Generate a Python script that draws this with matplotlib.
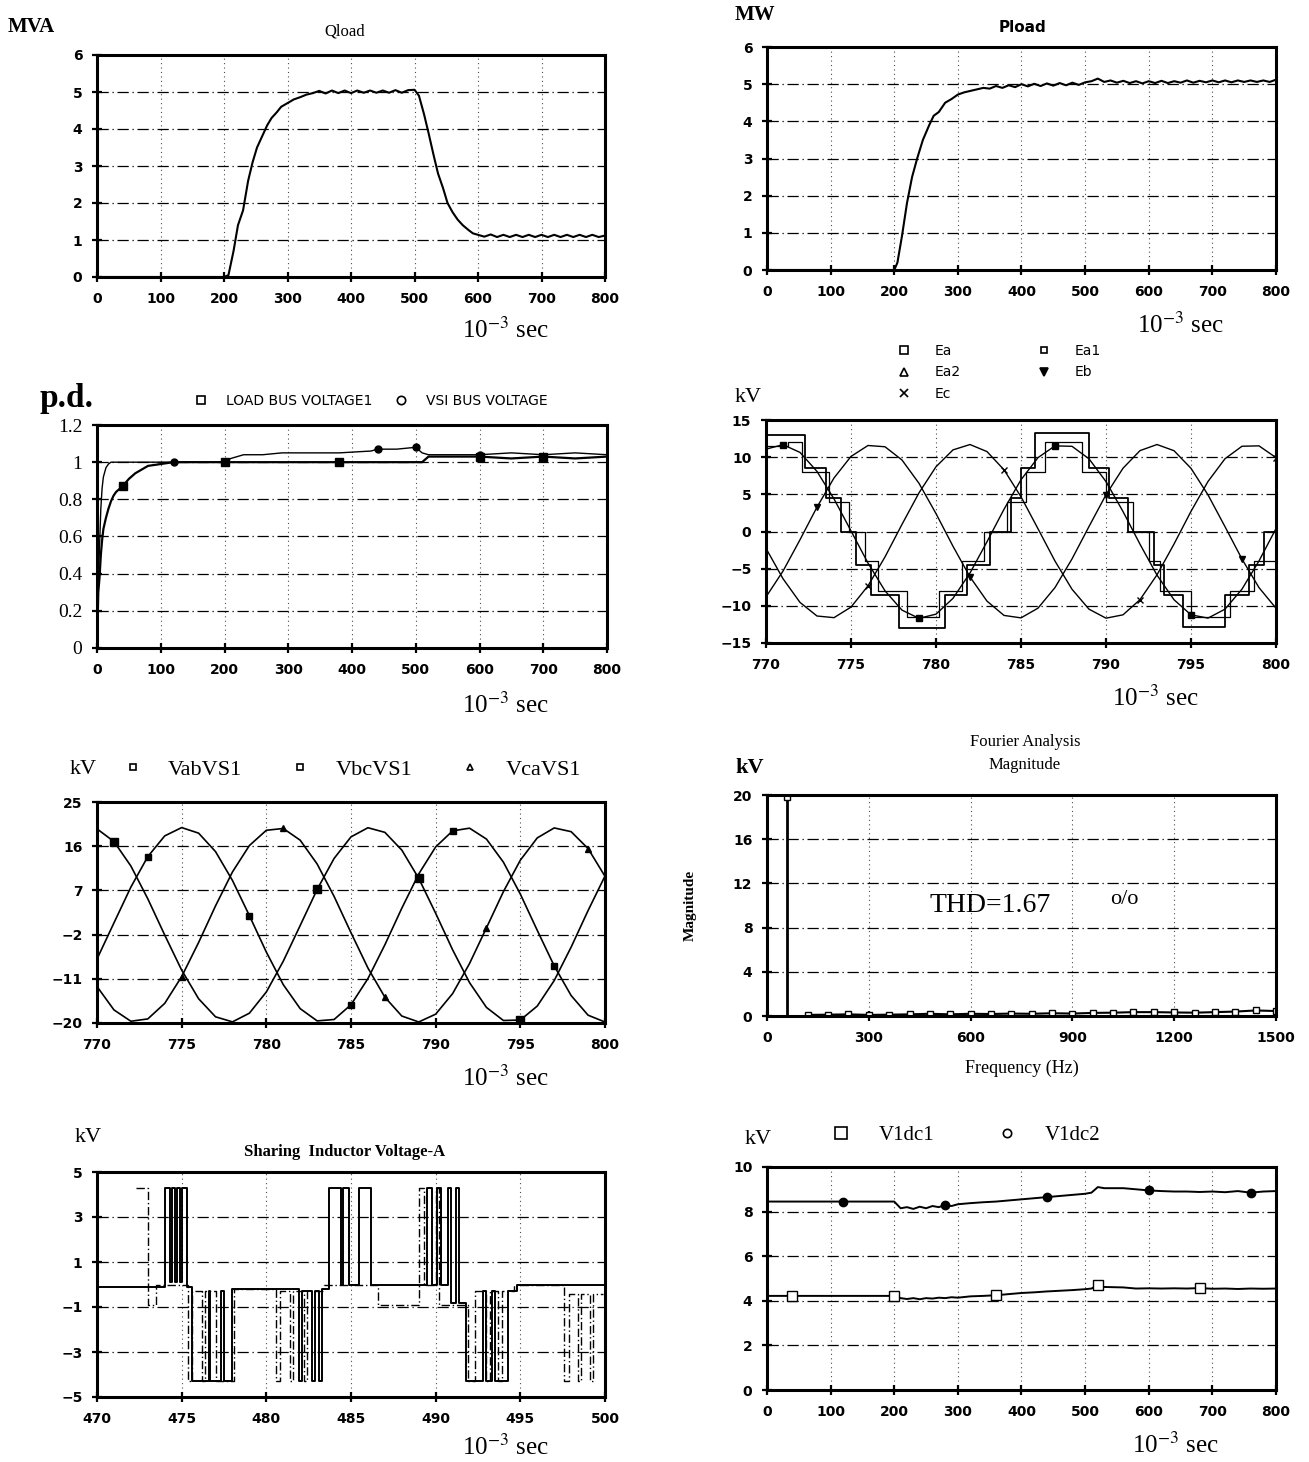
import matplotlib.pyplot as plt
from matplotlib.lines import Line2D

plt.rcParams['font.family'] = ['DejaVu Sans']
plt.rcParams['mathtext.fontset'] = 'stix'
plt.rcParams['mathtext.default'] = 'rm'

W, H = 1309, 1462
SERIF = 'Liberation Serif'

# ---------------- data ----------------
# Qload, MVA vs ms
q_t = [0, 100, 200, 207, 215, 222, 230, 238, 245, 252, 260, 268, 275, 283, 290,
       300, 310, 320, 330, 340, 350, 360, 370, 380, 390, 400, 410, 420, 430, 440,
       450, 460, 470, 480, 490, 500,
       507, 515, 522, 530, 537, 545, 552, 560, 568, 576, 585, 592,
       600, 610, 620, 630, 640, 650, 660, 670, 680, 690, 700, 710, 720, 730, 740,
       750, 760, 770, 780, 790, 800]
q_v = [0, 0, 0, 0.05, 0.7, 1.4, 1.8, 2.6, 3.1, 3.5, 3.8, 4.1, 4.3, 4.45, 4.6,
       4.7, 4.8, 4.86, 4.93, 4.97, 5.03, 4.96, 5.04, 4.97, 5.04, 4.97, 5.04, 4.98, 5.04, 4.98,
       5.04, 4.98, 5.05, 4.98, 5.05, 5.06,
       4.9, 4.4, 3.9, 3.3, 2.8, 2.4, 2.0, 1.75, 1.55, 1.4, 1.27, 1.18,
       1.14, 1.09, 1.15, 1.08, 1.14, 1.08, 1.14, 1.08, 1.14, 1.08, 1.14, 1.08, 1.14, 1.08, 1.14,
       1.08, 1.14, 1.08, 1.14, 1.08, 1.12]

# Pload, MW vs ms
p_t = [0, 100, 200, 205, 212, 220, 228, 236, 245, 255, 262, 270, 280, 290, 300,
       310, 320, 330, 340, 350, 360, 370, 380, 390, 400, 410, 420, 430, 440, 450,
       460, 470, 480, 490, 500, 510, 520, 530, 540, 550, 560, 570, 580, 590, 600,
       610, 620, 630, 640, 650, 660, 670, 680, 690, 700, 710, 720, 730, 740, 750,
       760, 770, 780, 790, 800]
p_v = [0, 0, 0, 0.2, 0.9, 1.8, 2.5, 3.0, 3.5, 3.9, 4.15, 4.25, 4.5, 4.6, 4.72,
       4.78, 4.82, 4.86, 4.9, 4.88, 4.95, 4.9, 4.97, 4.92, 5.0, 4.94, 5.01, 4.95, 5.02, 4.96,
       5.03, 4.97, 5.04, 4.98, 5.05, 5.08, 5.15, 5.06, 5.1, 5.04, 5.09, 5.03, 5.08, 5.02, 5.08,
       5.03, 5.09, 5.03, 5.08, 5.04, 5.1, 5.04, 5.09, 5.05, 5.1, 5.05, 5.1, 5.05, 5.1, 5.06,
       5.1, 5.06, 5.1, 5.06, 5.12]

# bus voltages, p.u. vs ms
pd_t = [0, 2, 4, 6, 8, 10, 14, 18, 22, 26, 30, 40, 50, 60, 70, 80, 100, 120, 160, 200,
        210, 230, 260, 290, 330, 380, 430, 440, 470, 500, 510, 520, 560, 600, 650, 700, 750, 800]
load_bus = [0.0, 0.3, 0.38, 0.5, 0.58, 0.64, 0.7, 0.75, 0.79, 0.82, 0.84, 0.87, 0.91, 0.94, 0.96,
            0.98, 0.99, 1.0, 1.0, 1.0, 1.0, 1.0, 1.0, 1.0, 1.0, 1.0, 1.0, 1.0, 1.0, 1.0,
            1.0, 1.03, 1.03, 1.03, 1.02, 1.03, 1.02, 1.03]
vsi_bus = [0.0, 0.35, 0.55, 0.75, 0.86, 0.92, 0.97, 0.99, 1.0, 1.0, 1.0, 1.0, 1.0, 1.0, 1.0,
           1.0, 1.0, 1.0, 1.0, 1.0, 1.02, 1.04, 1.04, 1.05, 1.05, 1.05, 1.06, 1.07, 1.07, 1.08,
           1.05, 1.04, 1.04, 1.04, 1.05, 1.04, 1.05, 1.04]

# converter voltages, kV vs ms
t4 = [770, 771, 772, 773, 774, 775, 776, 777, 778, 779, 780, 781, 782, 783, 784, 785,
      786, 787, 788, 789, 790, 791, 792, 793, 794, 795, 796, 797, 798, 799, 800]
ea = [11.08, 11.68, 10.64, 8.08, 4.39, 0.08, -4.25, -7.98, -10.58, -11.68, -11.12, -8.99,
      -5.58, -1.38, 2.99, 6.96, 9.94, 11.52, 11.46, 9.78, 6.71, 2.69, -1.71, -5.87, -9.18,
      -11.21, -11.65, -10.45, -7.75, -3.96, 0.39]
eb = [-8.80, -5.33, -1.11, 3.28, 7.20, 10.10, 11.57, 11.40, 9.62, 6.48, 2.41, -1.99, -6.11,
      -9.37, -11.29, -11.62, -10.31, -7.54, -3.69, 0.67, 4.94, 8.51, 10.88, 11.70, 10.87,
      8.50, 4.93, 0.65, -3.71, -7.55, -10.32]
ec = [-2.27, -6.35, -9.54, -11.37, -11.59, -10.17, -7.31, -3.42, 0.96, 5.20, 8.71, 10.98,
      11.70, 10.75, 8.30, 4.67, 0.37, -3.98, -7.77, -10.45, -11.66, -11.21, -9.17, -5.83,
      -1.69, 2.71, 6.73, 9.79, 11.47, 11.52, 9.94]
ea1_t = [770.0, 772.3, 773.5, 774.4, 775.3, 776.2, 777.8, 780.5, 781.8, 783.2, 784.4, 785.0,
         785.8, 789.0, 790.2, 791.3, 792.8, 793.4, 794.5, 797.0, 798.4, 799.3, 800.0]
ea1_v = [13.0, 8.5, 4.5, 0.0, -4.5, -8.5, -13.0, -8.5, -4.5, 0.0, 4.5, 8.5,
         13.2, 8.5, 4.5, 0.0, -4.5, -8.5, -12.8, -8.5, -4.5, 0.0, 0.0]
ea2_t = [770.0, 771.3, 772.1, 773.7, 774.9, 775.8, 776.6, 778.3, 780.2, 781.5, 782.8, 784.2,
         785.3, 786.4, 788.6, 790.0, 791.6, 792.5, 793.2, 795.0, 797.3, 798.7, 800.0]
ea2_v = [11.5, 12.0, 8.0, 4.0, 0.0, -4.0, -8.0, -11.5, -8.0, -4.0, 0.0, 4.0,
         8.0, 12.0, 8.0, 4.0, 0.0, -4.0, -8.0, -11.5, -8.0, -4.0, -4.0]

# VSI line voltages, kV vs ms
t5 = [770, 771, 772, 773, 774, 775, 776, 777, 778, 779, 780, 781, 782, 783, 784, 785,
      786, 787, 788, 789, 790, 791, 792, 793, 794, 795, 796, 797, 798, 799, 800]
vab = [19.53, 16.95, 11.97, 5.29, -2.10, -9.23, -15.06, -18.74, -19.77, -18.00, -13.68,
       -7.42, -0.14, 7.19, 13.50, 17.90, 19.76, 18.82, 15.21, 9.45, 2.34, -5.09, -11.78,
       -16.83, -19.49, -19.40, -16.55, -11.36, -4.55, 2.89, 9.93]
vbc = [-6.97, 0.38, 7.67, 13.88, 18.10, 19.79, 18.66, 14.90, 9.02, 1.86, -5.56, -12.19,
       -17.08, -19.57, -19.29, -16.28, -10.96, -4.08, 3.37, 10.35, 15.85, 19.12, 19.67,
       17.45, 12.75, 6.25, -1.14, -8.37, -14.41, -18.41, -19.80]
vca = [-12.57, -17.33, -19.64, -19.17, -16.00, -10.55, -3.61, 3.85, 10.76, 16.14, 19.24,
       19.61, 17.22, 12.38, 5.79, -1.62, -8.80, -14.74, -18.58, -19.79, -18.20, -14.02,
       -7.89, -0.62, 6.74, 13.15, 17.69, 19.72, 18.96, 15.52, 9.87]

# Fourier analysis
fund_freq = 60
fund_mag = 19.8
harm_freq = [120, 180, 240, 300, 360, 420, 480, 540, 600, 660, 720, 780, 840, 900, 960,
             1020, 1080, 1140, 1200, 1260, 1320, 1380, 1440, 1500]
harm_mag = [0.1, 0.12, 0.15, 0.1, 0.12, 0.15, 0.2, 0.15, 0.2, 0.18, 0.22, 0.2, 0.25, 0.22,
            0.28, 0.3, 0.35, 0.35, 0.32, 0.3, 0.35, 0.4, 0.5, 0.45]
thd = 1.67

# sharing inductor voltage, kV vs ms (stepped)
sh_t = [470.0, 474.0, 474.3, 474.4, 474.6, 474.7, 474.9, 475.0, 475.3, 475.6, 476.6, 476.7,
        477.3, 477.5, 478.0, 481.9, 482.1, 482.7, 482.9, 483.1, 483.3, 483.7, 484.4, 484.5,
        484.9, 485.5, 486.2, 489.5, 489.8, 490.1, 490.3, 490.7, 490.9, 491.2, 491.4, 491.8,
        492.8, 493.0, 493.3, 493.5, 494.3, 494.8, 500.0]
sh_v = [-0.1, 4.3, 0.1, 4.3, 0.1, 4.3, 0.1, 4.3, -0.1, -4.3, -0.3, -4.3,
        -0.3, -4.3, -0.2, -4.3, -0.3, -4.3, -0.3, -4.3, -0.2, 4.3, 0.0, 4.3,
        0.0, 4.3, 0.0, 4.3, 0.0, 4.3, 0.0, 4.3, -0.8, 4.3, -0.8, -4.3,
        -0.3, -4.3, -0.3, -4.3, -0.3, 0.0, 0.0]
sh2_t = [472.3, 473.0, 473.5, 475.4, 475.6, 476.2, 476.4, 477.0, 478.1, 480.6, 480.8, 481.4,
         481.6, 482.2, 482.4, 483.4, 486.6, 489.0, 489.3, 490.0, 490.2, 491.9, 492.3, 493.0,
         493.2, 493.7, 493.9, 494.6, 497.6, 497.9, 498.4, 498.6, 499.1, 499.3, 499.9]
sh2_v = [4.3, -0.9, 0.0, -4.3, -0.3, -4.3, -0.3, -4.3, -0.2, -4.3, -0.3, -4.3,
         -0.3, -4.3, -0.3, 0.0, -0.9, 4.3, 0.0, 4.3, -0.9, -4.3, -0.3, -4.3,
         -0.3, -4.3, -0.3, 0.0, -4.3, -0.4, -4.3, -0.4, -4.3, -0.4, -0.4]

# dc link voltages, kV vs ms
dc_t = [0, 40, 100, 120, 200, 205, 210, 220, 230, 240, 250, 260, 270, 280, 290, 300,
        320, 340, 360, 380, 400, 420, 440, 460, 480, 500, 510, 520, 530,
        560, 580, 600, 620, 640, 660, 680, 700, 720, 740, 760, 780, 800]
v1dc1 = [4.22, 4.22, 4.22, 4.22, 4.22, 4.18, 4.12, 4.08, 4.12, 4.07, 4.12, 4.1, 4.14, 4.12,
         4.16, 4.14, 4.2, 4.22, 4.25, 4.3, 4.35, 4.38, 4.42, 4.45, 4.48, 4.52, 4.55, 4.7,
         4.62, 4.6, 4.55, 4.56, 4.55, 4.56, 4.55, 4.57, 4.54, 4.55, 4.53, 4.55, 4.54, 4.55]
v1dc2 = [8.45, 8.45, 8.45, 8.45, 8.45, 8.3, 8.15, 8.2, 8.12, 8.22, 8.15, 8.25, 8.2, 8.3,
         8.25, 8.33, 8.38, 8.42, 8.45, 8.5, 8.55, 8.6, 8.65, 8.7, 8.75, 8.8, 8.85, 9.1,
         9.05, 9.05, 9.0, 8.95, 8.92, 8.9, 8.9, 8.88, 8.9, 8.87, 8.92, 8.85, 8.9, 8.92]

# ---------------- figure ----------------
fig = plt.figure(figsize=(W / 100, H / 100), dpi=100)


def box(l, t, r, b):
    return [l / W, 1 - b / H, (r - l) / W, (b - t) / H]


def put(x, y, s, **kw):
    kw.setdefault('family', SERIF)
    kw.setdefault('ha', 'center')
    fig.text(x / W, 1 - y / H, s, va='center', **kw)


def panel(rect, xlim, ylim, xticks, yticks):
    ax = fig.add_axes(box(*rect))
    ax.set_xlim(xlim)
    ax.set_ylim(ylim)
    ax.set_xticks(xticks)
    ax.set_yticks(yticks)
    for s in ax.spines.values():
        s.set_linewidth(2.2)
    ax.tick_params(direction='inout', length=7, width=1.6, labelsize=10, pad=7)
    for lab in ax.get_xticklabels() + ax.get_yticklabels():
        lab.set_fontweight('bold')
    ax.grid(axis='y', color='k', lw=0.9, ls=(0, (9, 3, 1, 3)))
    ax.grid(axis='x', color='0.3', lw=0.8, ls=(0, (1, 3)))
    ax.set_axisbelow(True)
    return ax


def sec(x, y):
    put(x, y, r'10$^{-3}$ sec', fontsize=18)


def legend(ax, items, anchor, ncol, font, size, **kw):
    handles = [Line2D([], [], ls='none', marker=m, mfc=fc, mec='k', ms=ms, mew=1.2)
               for _, m, fc, ms in items]
    ax.legend(handles, [it[0] for it in items], loc='lower center', bbox_to_anchor=anchor,
              ncol=ncol, frameon=False, prop={'family': font, 'size': size},
              borderaxespad=0, **kw)


# 1. Qload
ax = panel((97, 55, 605, 277), (0, 800), (0, 6), range(0, 801, 100), range(0, 7))
ax.plot(q_t, q_v, color='k', lw=1.5)
put(8, 27, 'MVA', fontsize=15, weight='bold', ha='left')
put(345, 32, 'Qload', fontsize=12)
sec(505, 330)

# 2. Pload
ax = panel((767, 47, 1276, 270), (0, 800), (0, 6), range(0, 801, 100), range(0, 7))
ax.plot(p_t, p_v, color='k', lw=1.5)
put(735, 15, 'MW', fontsize=15, weight='bold', ha='left')
put(1022, 27, 'Pload', fontsize=11, weight='bold', family='DejaVu Sans')
sec(1180, 325)

# 3. bus voltages
ax = panel((97, 425, 607, 648), (0, 800), (0, 1.2), range(0, 801, 100),
           [0, 0.2, 0.4, 0.6, 0.8, 1.0, 1.2])
ax.set_yticklabels(['0', '0.2', '0.4', '0.6', '0.8', '1', '1.2'])
for lab in ax.get_yticklabels():
    lab.set_family(SERIF)
    lab.set_fontsize(14)
    lab.set_fontweight('normal')
ax.plot(pd_t, load_bus, color='k', lw=1.6, marker='s', ms=6, mfc='k',
        markevery=[11, 19, 25, 33, 35])
ax.plot(pd_t, vsi_bus, color='k', lw=1.0, marker='o', ms=5, mfc='k',
        markevery=[17, 19, 27, 29, 33])
put(40, 398, 'p.d.', fontsize=24, weight='bold', ha='left')
legend(ax, [('LOAD BUS VOLTAGE1', 's', 'white', 6), ('VSI BUS VOLTAGE', 'o', 'white', 6)],
       (0.53, 1.05), 2, 'DejaVu Sans', 10, columnspacing=1.0, handletextpad=0.8)
sec(505, 705)

# 4. converter voltages
ax = panel((766, 420, 1276, 643), (770, 800), (-15, 15), range(770, 801, 5),
           range(-15, 16, 5))
ax.plot(t4, ea, color='k', lw=1.0, marker='s', ms=4, markevery=[1, 9, 17, 25])
ax.plot(t4, eb, color='k', lw=1.0, marker='v', ms=4, markevery=[3, 12, 20, 28])
ax.plot(t4, ec, color='k', lw=1.0, marker='x', ms=5, markevery=[6, 14, 22, 30])
ax.plot(ea1_t, ea1_v, color='k', lw=1.3, drawstyle='steps-post')
ax.plot(ea2_t, ea2_v, color='k', lw=0.9, drawstyle='steps-post')
legend(ax, [('Ea', 's', 'white', 6), ('Ea2', '^', 'white', 6), ('Ec', 'x', 'k', 6),
            ('Ea1', 's', 'white', 5), ('Eb', 'v', 'k', 6)],
       (0.45, 1.06), 2, 'DejaVu Sans', 10, columnspacing=5, labelspacing=0.55,
       handletextpad=1.2)
put(735, 397, 'kV', fontsize=16, ha='left')
sec(1155, 698)

# 5. VSI line voltages
ax = panel((97, 802, 605, 1023), (770, 800), (-20, 25), range(770, 801, 5),
           [-20, -11, -2, 7, 16, 25])
ax.plot(t5, vab, color='k', lw=1.2, marker='s', ms=6, markevery=[1, 13, 19, 25])
ax.plot(t5, vbc, color='k', lw=1.2, marker='s', ms=5, markevery=[3, 9, 15, 21, 27])
ax.plot(t5, vca, color='k', lw=1.2, marker='^', ms=5, markevery=[5, 11, 17, 23, 29])
legend(ax, [('VabVS1', 's', 'white', 5), ('VbcVS1', 's', 'white', 4),
            ('VcaVS1', '^', 'white', 5)],
       (0.49, 1.06), 3, SERIF, 16, columnspacing=1.6, handletextpad=0.6)
put(70, 770, 'kV', fontsize=16, ha='left')
sec(505, 1078)

# 6. Fourier analysis
ax = panel((767, 795, 1276, 1016), (0, 1500), (0, 20), range(0, 1501, 300),
           range(0, 21, 4))
ax.vlines(fund_freq, 0, fund_mag, color='k', lw=2)
ax.plot([fund_freq], [fund_mag], ls='none', marker='s', ms=5, mfc='white', mec='k')
ax.plot(harm_freq, harm_mag, color='k', lw=1.5, marker='s', ms=5, mfc='white', mec='k')
ax.text(480, 10, 'THD=%.2f' % thd, family=SERIF, fontsize=20, va='center')
ax.text(1010, 10.5, 'o/o', family=SERIF, fontsize=16, va='center')
put(1025, 742, 'Fourier Analysis', fontsize=12)
put(1025, 765, 'Magnitude', fontsize=12)
put(735, 768, 'kV', fontsize=16, weight='bold', ha='left')
put(690, 905, 'Magnitude', fontsize=11, weight='bold', rotation=90)
put(1022, 1068, 'Frequency (Hz)', fontsize=13)

# 7. sharing inductor voltage
ax = panel((97, 1172, 605, 1397), (470, 500), (-5, 5), range(470, 501, 5),
           [-5, -3, -1, 1, 3, 5])
ax.plot(sh_t, sh_v, color='k', lw=1.4, drawstyle='steps-post')
ax.plot(sh2_t, sh2_v, color='k', lw=1.0, ls=(0, (6, 2, 1, 2)), drawstyle='steps-post')
put(75, 1137, 'kV', fontsize=16, ha='left')
put(345, 1152, 'Sharing  Inductor Voltage-A', fontsize=12, weight='bold')
sec(505, 1447)

# 8. dc link voltages
ax = panel((767, 1167, 1276, 1390), (0, 800), (0, 10), range(0, 801, 100),
           range(0, 11, 2))
ax.plot(dc_t, v1dc1, color='k', lw=1.4, marker='s', ms=7, mfc='white',
        markevery=[1, 4, 18, 27, 35])
ax.plot(dc_t, v1dc2, color='k', lw=1.4, marker='o', ms=6, mfc='k',
        markevery=[3, 13, 22, 31, 39])
legend(ax, [('V1dc1', 's', 'white', 8), ('V1dc2', 'o', 'white', 6)],
       (0.38, 1.06), 2, SERIF, 15, columnspacing=2.5, handletextpad=0.8)
put(745, 1140, 'kV', fontsize=16, ha='left')
sec(1175, 1445)

fig.savefig('out.png', dpi=100)
